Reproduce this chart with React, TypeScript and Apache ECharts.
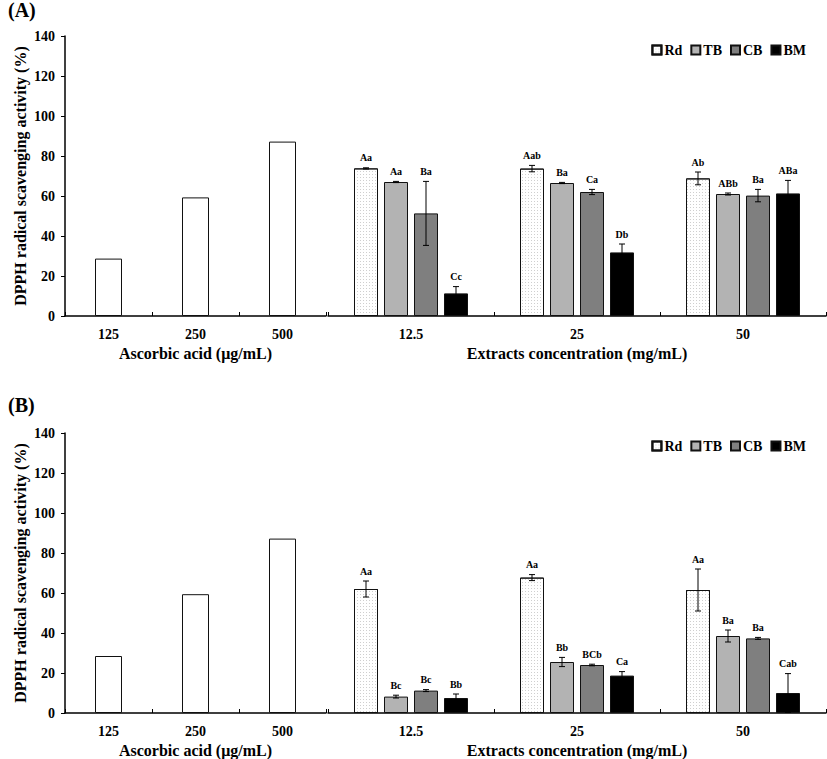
import React, { useEffect, useRef } from "react";
import * as echarts from "echarts";

const ascorbicCats = ["125", "250", "500"];
const extractCats = ["12.5", "25", "50"];
const extractNames = ["Rd", "TB", "CB", "BM"];

// Panel A
const ascorbicA = [28.7, 59.3, 87.2];
const rdA = [73.8, 73.7, 68.8];
const tbA = [67.0, 66.5, 61.0];
const cbA = [51.3, 62.0, 60.2];
const bmA = [11.3, 31.8, 61.3];
const rdAErr = [0.3, 1.6, 3.2];
const tbAErr = [0.3, 0.3, 0.5];
const cbAErr = [16.0, 1.3, 3.1];
const bmAErr = [3.4, 4.2, 6.5];
const rdALbl = ["Aa", "Aab", "Ab"];
const tbALbl = ["Aa", "Ba", "ABb"];
const cbALbl = ["Ba", "Ca", "Ba"];
const bmALbl = ["Cc", "Db", "ABa"];

// Panel B
const ascorbicB = [28.5, 59.4, 87.2];
const rdB = [62.0, 67.7, 61.5];
const tbB = [8.2, 25.5, 38.5];
const cbB = [11.2, 24.0, 37.3];
const bmB = [7.5, 18.7, 10.0];
const rdBErr = [4.0, 1.5, 10.5];
const tbBErr = [0.7, 2.3, 3.0];
const cbBErr = [0.5, 0.4, 0.5];
const bmBErr = [2.0, 2.0, 9.7];
const rdBLbl = ["Aa", "Aa", "Aa"];
const tbBLbl = ["Bc", "Bb", "Ba"];
const cbBLbl = ["Bc", "BCb", "Ba"];
const bmBLbl = ["Bb", "Ca", "Cab"];

const yTicks = [0, 20, 40, 60, 80, 100, 120, 140];

const FONT = "'Liberation Serif', 'Times New Roman', serif";
const colors = ["#ffffff", "#b3b3b3", "#7f7f7f", "#000000"];

export default function App() {
  const ref = useRef<HTMLDivElement>(null);
  useEffect(() => {
    document.body.style.margin = "0";
    const chart = echarts.init(ref.current!, null, { renderer: "svg" });

    const panels = [
      {
        asc: ascorbicA,
        vals: [rdA, tbA, cbA, bmA],
        errs: [rdAErr, tbAErr, cbAErr, bmAErr],
        lbls: [rdALbl, tbALbl, cbALbl, bmALbl],
        top: 36,
      },
      {
        asc: ascorbicB,
        vals: [rdB, tbB, cbB, bmB],
        errs: [rdBErr, tbBErr, cbBErr, bmBErr],
        lbls: [rdBLbl, tbBLbl, cbBLbl, bmBLbl],
        top: 433,
      },
    ];

    const grids: any[] = [];
    const xAxes: any[] = [];
    const yAxes: any[] = [];
    const series: any[] = [];
    const axisLine = { lineStyle: { color: "#000", width: 1.5 } };

    panels.forEach((p, pi) => {
      const g0 = pi * 2;
      const g1 = pi * 2 + 1;
      grids.push({ left: 65, top: p.top, width: 261, height: 280 });
      grids.push({ left: 328, top: p.top, width: 498, height: 280 });
      xAxes.push({
        type: "category",
        gridIndex: g0,
        data: ascorbicCats,
        axisLine,
        axisTick: { show: true, inside: true, length: 4, lineStyle: { color: "#000" } },
        axisLabel: { color: "#000", fontWeight: "bold", fontSize: 14, fontFamily: FONT, margin: 11 },
        name: "Ascorbic acid (μg/mL)",
        nameLocation: "middle",
        nameGap: 29,
        nameTextStyle: { color: "#000", fontWeight: "bold", fontSize: 16, fontFamily: FONT },
      });
      xAxes.push({
        type: "category",
        gridIndex: g1,
        data: extractCats,
        axisLine,
        axisTick: { show: true, inside: true, length: 4, lineStyle: { color: "#000" } },
        axisLabel: { color: "#000", fontWeight: "bold", fontSize: 14, fontFamily: FONT, margin: 11 },
        name: "Extracts concentration (mg/mL)",
        nameLocation: "middle",
        nameGap: 29,
        nameTextStyle: { color: "#000", fontWeight: "bold", fontSize: 16, fontFamily: FONT },
      });
      yAxes.push({
        type: "value",
        gridIndex: g0,
        min: 0,
        max: 140,
        interval: 20,
        axisLine: { show: true, ...axisLine },
        axisTick: { show: true, length: 4, lineStyle: { color: "#000" } },
        splitLine: { show: false },
        axisLabel: {
          color: "#000",
          fontWeight: "bold",
          fontSize: 14,
          fontFamily: FONT,
          margin: 10,
          formatter: (v: number) => (yTicks.includes(v) ? String(v) : ""),
        },
        name: "DPPH radical scavenging activity (%)",
        nameLocation: "middle",
        nameGap: 37,
        nameTextStyle: { color: "#000", fontWeight: "bold", fontSize: 16, fontFamily: FONT },
      });
      yAxes.push({
        type: "value",
        gridIndex: g1,
        min: 0,
        max: 140,
        interval: 20,
        show: false,
        splitLine: { show: false },
      });

      series.push({
        type: "bar",
        name: "Ascorbic acid",
        xAxisIndex: g0,
        yAxisIndex: g0,
        data: p.asc,
        barWidth: 27,
        itemStyle: { color: "#fff", borderColor: "#111", borderWidth: 1 },
      });
      extractNames.forEach((nm, k) => {
        const itemStyle: any = { color: colors[k], borderColor: "#111", borderWidth: 1 };
        if (k === 0) {
          itemStyle.decal = {
            symbol: "rect",
            symbolSize: 1,
            color: "#cfcfcf",
            backgroundColor: "#fafafa",
            dashArrayX: [1, 2],
            dashArrayY: [1, 2],
          };
        }
        series.push({
          type: "bar",
          name: nm,
          xAxisIndex: g1,
          yAxisIndex: g1,
          data: p.vals[k],
          barWidth: 24,
          barGap: "25%",
          itemStyle,
        });
      });
      const items: any[] = [];
      const labels: string[] = [];
      extractNames.forEach((_, k) => {
        extractCats.forEach((_c, ci) => {
          items.push([ci, k, p.vals[k][ci], p.errs[k][ci]]);
          labels.push(p.lbls[k][ci]);
        });
      });
      series.push({
        type: "custom",
        name: "err" + pi,
        xAxisIndex: g1,
        yAxisIndex: g1,
        data: items,
        encode: { x: 0, y: 2 },
        z: 5,
        renderItem: (params: any, api: any) => {
          const cat = api.value(0);
          const k = api.value(1);
          const v = api.value(2);
          const e = api.value(3);
          const c = api.coord([cat, v]);
          const x = c[0] + (k - 1.5) * 30;
          const yt = api.coord([cat, v + e])[1];
          const yb = api.coord([cat, v - e])[1];
          const ls = { stroke: "#000", lineWidth: 1 };
          return {
            type: "group",
            children: [
              { type: "line", shape: { x1: x, y1: yt, x2: x, y2: yb }, style: ls },
              { type: "line", shape: { x1: x - 3, y1: yt, x2: x + 3, y2: yt }, style: ls },
              { type: "line", shape: { x1: x - 3, y1: yb, x2: x + 3, y2: yb }, style: ls },
              {
                type: "text",
                x,
                y: yt - 5,
                style: {
                  text: labels[params.dataIndex],
                  textAlign: "center",
                  textVerticalAlign: "bottom",
                  font: `bold 10px ${FONT}`,
                  fill: "#000",
                },
              },
            ],
          };
        },
      });
    });

    const legendBase = {
      data: extractNames,
      right: 16,
      icon: "rect",
      itemWidth: 9,
      itemHeight: 9,
      itemGap: 8,
      textStyle: { color: "#000", fontWeight: "bold", fontSize: 14, fontFamily: FONT, padding: [0, 0, 0, -2] },
      selectedMode: false,
    };

    chart.setOption({
      animation: false,
      textStyle: { fontFamily: FONT },
      legend: [
        { ...legendBase, top: 38 },
        { ...legendBase, top: 434 },
      ],
      grid: grids,
      xAxis: xAxes,
      yAxis: yAxes,
      series,
      graphic: [
        { type: "text", left: 8, top: 0, style: { text: "(A)", font: `bold 20px ${FONT}`, fill: "#000" } },
        { type: "text", left: 8, top: 395, style: { text: "(B)", font: `bold 20px ${FONT}`, fill: "#000" } },
      ],
    });
    return () => chart.dispose();
  }, []);
  return <div ref={ref} style={{ width: 827, height: 759 }} />;
}
